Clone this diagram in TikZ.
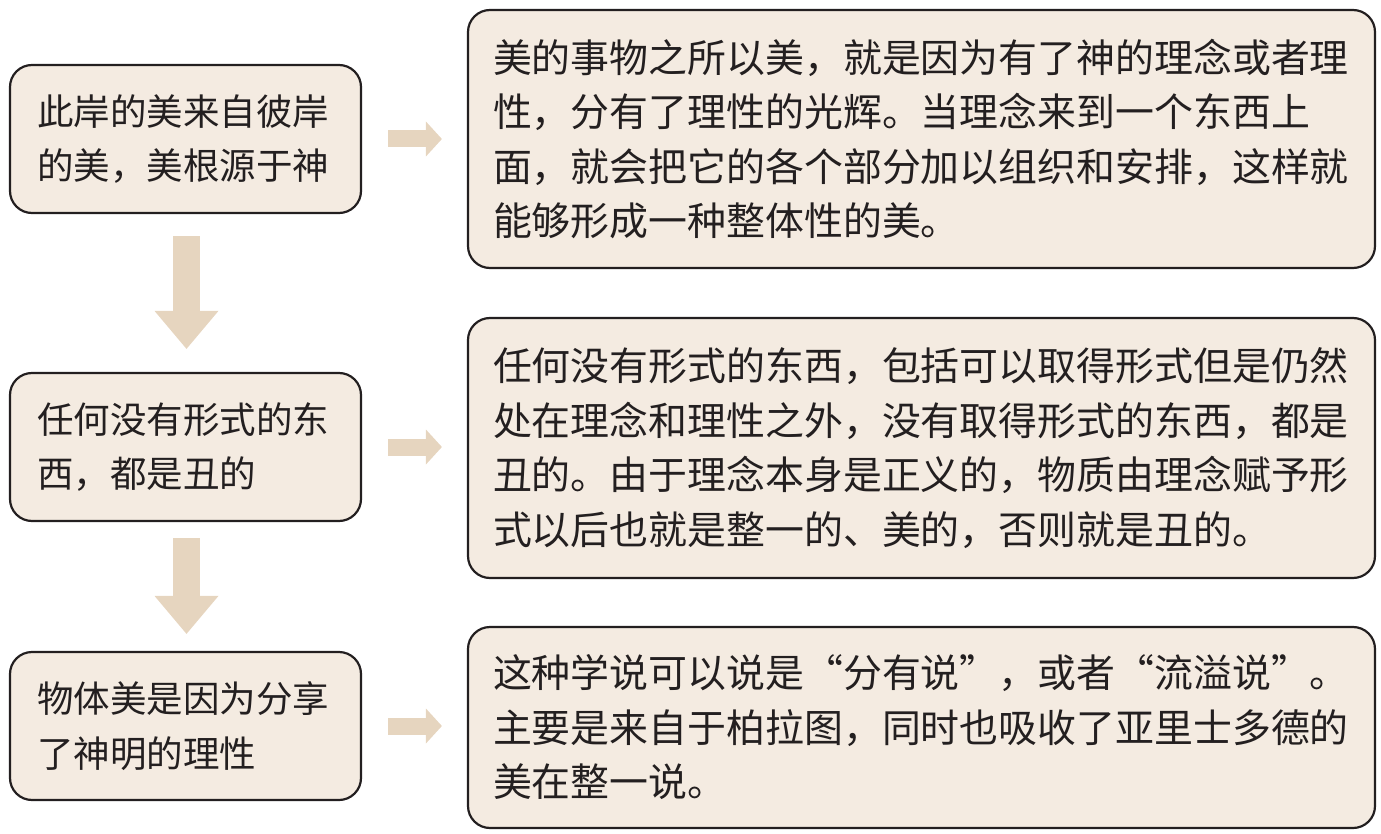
\documentclass[tikz,border=0pt]{standalone}
\usepackage{fontspec}
\usepackage{tikz}
\usetikzlibrary{arrows.meta}
\newfontfamily\cjk{Noto Sans CJK SC}
\definecolor{boxfill}{HTML}{F4EBE1}
\definecolor{arrowfill}{HTML}{E6D5BF}
\definecolor{ink}{HTML}{231F20}
\tikzset{
  leftbox/.style={draw=ink, line width=2.2pt, fill=boxfill, rounded corners=22pt,
    minimum width=351pt, inner xsep=27pt, inner ysep=0pt, text width=297pt, align=left,
    text=ink, font=\cjk\fontsize{36.5pt}{54.5pt}\selectfont},
  rightbox/.style={leftbox, minimum width=907pt, inner xsep=25pt, text width=857pt,
    font=\cjk\fontsize{38.9pt}{54.5pt}\selectfont},
  downarrow/.style={color=arrowfill, line width=27pt,
    -{Triangle[width=64pt,length=38pt,line width=0pt]}},
  rightarrow/.style={color=arrowfill, line width=17pt,
    -{Triangle[width=35pt,length=16pt,line width=0pt]}}
}
\begin{document}
\begin{tikzpicture}[x=1pt,y=-1pt]
              \useasboundingbox (0,0) rectangle (1381,834);
              \node [leftbox, minimum height=148pt] (l1) at (185.5,139) {此岸的美来自彼岸\\的美，美根源于神};
              \node [leftbox, minimum height=148pt] (l2) at (185.5,447) {任何没有形式的东\\西，都是丑的};
              \node [leftbox, minimum height=148pt] (l3) at (185.5,726) {物体美是因为分享\\了神明的理性};
              \node [rightbox, minimum height=258pt] (r1) at (921.5,139) {美的事物之所以美，就是因为有了神的理念或者理\\性，分有了理性的光辉。当理念来到一个东西上\\面，就会把它的各个部分加以组织和安排，这样就\\能够形成一种整体性的美。};
              \node [rightbox, minimum height=260pt] (r2) at (921.5,448) {任何没有形式的东西，包括可以取得形式但是仍然\\处在理念和理性之外，没有取得形式的东西，都是\\丑的。由于理念本身是正义的，物质由理念赋予形\\式以后也就是整一的、美的，否则就是丑的。};
              \node [rightbox, minimum height=201pt] (r3) at (921.5,727.5) {这种学说可以说是“分有说”，或者“流溢说”。\\主要是来自于柏拉图，同时也吸收了亚里士多德的\\美在整一说。};
              \draw [downarrow, shorten <=22pt, shorten >=23pt] ([xshift=1pt]l1.south) -- ([xshift=1pt]l2.north);
              \draw [downarrow, shorten <=16pt, shorten >=17pt] ([xshift=1pt]l2.south) -- ([xshift=1pt]l3.north);
              \draw [rightarrow, shorten <=26pt, shorten >=25pt] (l1.east) -- (l1.east -| r1.west);
              \draw [rightarrow, shorten <=26pt, shorten >=25pt] (l2.east) -- (l2.east -| r2.west);
              \draw [rightarrow, shorten <=26pt, shorten >=25pt] (l3.east) -- (l3.east -| r3.west);
\end{tikzpicture}
\end{document}
